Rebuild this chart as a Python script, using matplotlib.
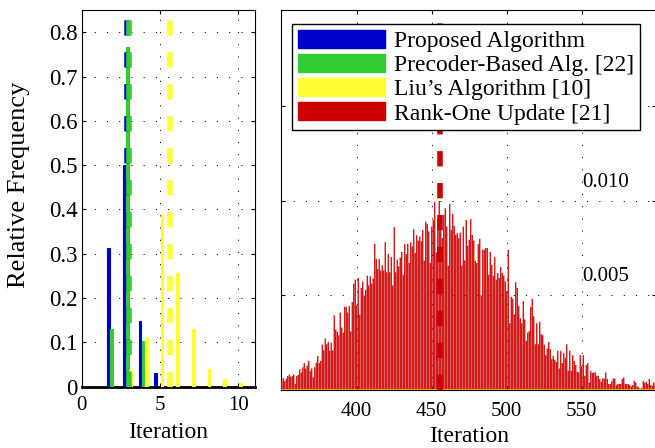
import numpy as np
import matplotlib.pyplot as plt

plt.rcParams['font.family'] = ['Liberation Serif', 'DejaVu Serif']
plt.rcParams['font.size'] = 15
plt.rcParams['lines.scale_dashes'] = False

# --- linker panel: relative frequency per iterasjon ---
iterations = np.arange(1, 12)
proposed = [0, 0.312, 0.500, 0.148, 0.032, 0, 0, 0, 0, 0, 0]
precoder = [0, 0.130, 0.766, 0.104, 0, 0, 0, 0, 0, 0, 0]
liu = [0, 0, 0.038, 0.111, 0.390, 0.257, 0.130, 0.041, 0.017, 0.008, 0.002]
rank_one_small = [0, 0, 0, 0, 0, 0, 0, 0, 0, 0, 0]

# gjennomsnitt (stiplede linjer)
mean_proposed = 2.92
mean_precoder = 3.00
mean_liu = 5.65
mean_rank_one = 455.5

# --- hoyre panel: Rank-One Update, iterasjon 350..599 (enhet 1e-3) ---
rank_one_iters = np.arange(350, 600)
rank_one_freq = np.array([
    0.42, 0.63, 0.47, 0.60, 0.74, 0.82, 0.70, 0.75, 0.82, 0.32,
    0.74, 0.80, 1.10, 0.93, 1.20, 1.42, 1.14, 1.30, 1.54, 1.00,
    1.14, 0.67, 1.20, 1.45, 1.80, 1.42, 1.54, 2.40, 2.10, 2.72,
    2.42, 2.54, 2.07, 2.50, 2.10, 3.95, 3.20, 3.07, 2.90, 4.09,
    3.30, 3.03, 4.40, 4.40, 4.10, 4.44, 3.10, 4.65, 5.63, 5.84,
    4.49, 5.93, 3.99, 5.40, 5.74, 5.00, 5.30, 6.05, 5.53, 6.02,
    5.63, 5.90, 7.74, 6.93, 6.40, 6.93, 6.32, 6.60, 6.32, 7.82,
    6.23, 7.20, 6.23, 7.03, 5.53, 8.61, 6.23, 6.90, 6.54, 7.00,
    7.30, 6.10, 7.72, 7.19, 7.74, 6.72, 7.82, 7.60, 8.51, 7.25,
    8.19, 7.90, 8.12, 7.86, 8.47, 6.84, 8.91, 8.79, 8.39, 6.72,
    8.65, 9.00, 9.96, 7.28, 9.04, 10.00, 9.04, 8.04, 9.26, 9.61,
    8.65, 6.58, 9.84, 8.47, 9.32, 8.68, 8.21, 8.30, 8.04, 8.33,
    6.58, 8.65, 6.86, 9.00, 7.63, 7.95, 9.04, 8.20, 7.91, 6.84,
    6.72, 7.72, 8.00, 5.00, 7.42, 7.42, 7.51, 7.51, 6.10, 7.30,
    6.63, 6.05, 7.03, 5.84, 6.19, 5.93, 6.51, 6.20, 6.05, 5.75,
    5.23, 7.42, 3.53, 4.93, 4.84, 4.00, 5.70, 5.40, 4.44, 3.80,
    3.53, 4.70, 3.74, 2.60, 3.04, 3.12, 4.40, 4.82, 3.90, 2.42,
    3.53, 2.42, 3.61, 2.95, 2.90, 2.40, 1.84, 2.19, 2.54, 2.16,
    1.63, 1.80, 1.60, 1.49, 2.07, 1.14, 2.07, 1.42, 1.95, 1.70,
    2.42, 1.02, 2.07, 1.02, 1.84, 1.54, 1.32, 0.96, 0.93, 1.84,
    1.25, 1.84, 0.75, 1.32, 1.42, 0.40, 1.02, 0.90, 0.93, 0.93,
    0.75, 0.75, 0.58, 0.44, 0.61, 0.61, 0.93, 0.58, 0.32, 0.32,
    0.45, 0.61, 0.61, 0.26, 0.32, 0.32, 0.32, 0.58, 0.67, 0.32,
    0.32, 0.32, 0.26, 0.19, 0.26, 0.49, 0.40, 0.19, 0.14, 0.05,
    0.10, 0.49, 0.37, 0.44, 0.32, 0.58, 0.26, 0.23, 0.40, 0.30,
]) * 1e-3

labels = ['Proposed Algorithm', 'Precoder-Based Alg. [22]',
          "Liu\u2019s Algorithm [10]", 'Rank-One Update [21]']
colors = ['#0000cc', '#33cc33', '#ffff33', '#cc0000']

left_xticks = [0, 5, 10]
left_yticks = [0, 0.1, 0.2, 0.3, 0.4, 0.5, 0.6, 0.7, 0.8]
left_yticklabels = ['0', '0.1', '0.2', '0.3', '0.4', '0.5', '0.6', '0.7', '0.8']
right_xticks = [400, 450, 500, 550]
right_yticks = [0.005, 0.010, 0.015]
right_ylabels = ['0.005', '0.010']

grid_style = dict(color='k', linewidth=0.7, linestyle=(0, (0.8, 8)))
dash_style = (0, (11, 12))

fig = plt.figure(figsize=(6.55, 4.48), dpi=100)

# ---------- venstre ----------
ax1 = fig.add_axes([0.1247, 0.1368, 0.2646, 0.8408])
offsets = [-0.28, -0.08, 0.12, 0.32]
series = [proposed, precoder, liu, rank_one_small]
for s, off, c in zip(series, offsets, colors):
    ax1.bar(iterations + off, s, width=0.17, color=c, edgecolor=c,
            linewidth=0.8, zorder=3)
ax1.axvline(mean_proposed, color=colors[0], lw=4, linestyle=dash_style, zorder=4)
ax1.axvline(mean_precoder, color=colors[1], lw=4, linestyle=dash_style, zorder=4)
ax1.axvline(mean_liu, color=colors[2], lw=4, linestyle=dash_style, zorder=4)

ax1.set_xlim(0, 11.06)
ax1.set_ylim(0, 0.85)
ax1.set_xticks(left_xticks)
ax1.set_yticks(left_yticks)
ax1.set_yticklabels(left_yticklabels, fontsize=16.5)
ax1.grid(True, **grid_style)
ax1.set_axisbelow(True)
ax1.tick_params(direction='in', top=True, right=True, length=3)
ax1.tick_params(axis='x', pad=7)
ax1.tick_params(axis='y', pad=3)
ax1.spines['bottom'].set_linewidth(2)
ax1.set_xlabel('Iteration', fontsize=17)
ax1.xaxis.set_label_coords(0.5, -0.093)
ax1.set_ylabel('Relative Frequency', fontsize=19)
ax1.yaxis.set_label_coords(-0.30, 0.535)

# ---------- hoyre ----------
ax2 = fig.add_axes([0.429, 0.1295, 0.573, 0.848])
ax2.bar(rank_one_iters, rank_one_freq, width=0.85, color=colors[3],
        linewidth=0, snap=False, zorder=3)
ax2.axhline(0, color='#e8c000', lw=1.2, zorder=4)
ax2.axvline(mean_rank_one, color=colors[3], lw=4, linestyle=dash_style, zorder=4)

ax2.set_xlim(349.5, 599.7)
ax2.set_ylim(0, 0.0201)
ax2.set_xticks(right_xticks)
ax2.set_yticks(right_yticks)
ax2.set_yticklabels([])
ax2.grid(True, **grid_style)
ax2.set_axisbelow(True)
ax2.tick_params(direction='in', top=True, right=True, length=3)
ax2.tick_params(axis='x', pad=9)
for v, t in zip(right_yticks[:2], right_ylabels):
    ax2.text(550, v + 0.001, t, ha='left', va='center')
ax2.set_xlabel('Iteration', fontsize=17)
ax2.xaxis.set_label_coords(0.5, -0.095)

handles = [plt.Rectangle((0, 0), 1, 1, color=c) for c in colors]
leg = ax2.legend(handles, labels, loc='upper left', fontsize=17,
                 bbox_to_anchor=(0.4453, 0.9464), bbox_transform=fig.transFigure,
                 fancybox=False, framealpha=1, edgecolor='k', borderaxespad=0,
                 handlelength=3.7, handleheight=0.8, handletextpad=0.4,
                 labelspacing=0.08, borderpad=0.25)
leg.get_frame().set_linewidth(1.0)
leg.set_zorder(10)

fig.savefig('out.png', dpi=100)
